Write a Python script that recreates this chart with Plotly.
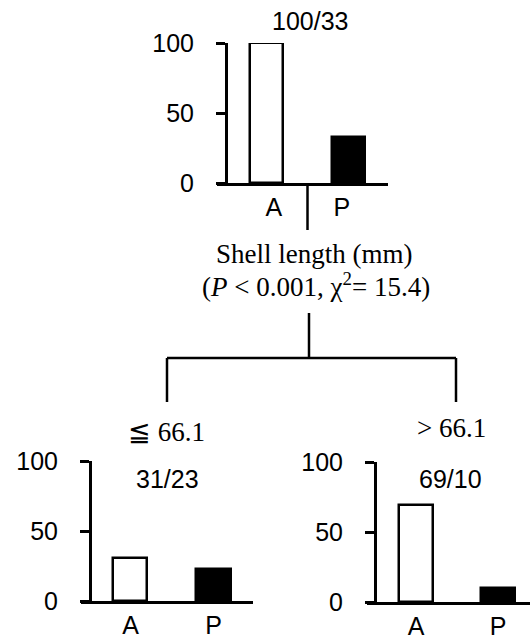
import plotly.graph_objects as go

W, H = 530, 640

# ---- data ----
categories = ["A", "P"]
top_values = [100, 33]
left_values = [31, 23]
right_values = [69, 10]
top_label = "100/33"
left_label = "31/23"
right_label = "69/10"
left_split = "\u2266 66.1"
right_split = "> 66.1"
node_line1 = "Shell length (mm)"
node_line2 = "(<i>P</i> &lt; 0.001, \u03c7<sup>2</sup>= 15.4)"
y_ticks = [0, 50, 100]

SANS = "Arial, Liberation Sans, sans-serif"
SERIF = "Times New Roman, Liberation Serif, serif"
FS = 25
FSERIF = 27

def px(x):
    return x / W

def py(y):
    return 1 - y / H

fig = go.Figure()

panels = [
    # suffix, values, x domain px, y axis px, y0 px, y100 px, x range, tickvals, x-label standoff
    ("", top_values, (217, 388), 226, 183, 43, (-0.604, 1.482), [0.09, 0.92], 0),
    ("2", left_values, (81, 253), 90, 601, 461, (-0.596, 1.476), [0, 1], 0),
    ("3", right_values, (367, 530), 375, 602, 462, (-0.598, 1.39), [0, 1], 0),
]

layout = {}
for sfx, vals, (xl, xr), yaxpos, y0, y100, xr_range, tv, so in panels:
    xs = [0, 1]
    fig.add_trace(go.Bar(
        x=xs, y=vals, xaxis="x" + sfx, yaxis="y" + sfx,
        width=0.41,
        marker=dict(color=["white", "black"], line=dict(color="black", width=2.5)),
        showlegend=False, hoverinfo="skip",
    ))
    layout["xaxis" + sfx] = dict(
        domain=[px(xl), px(xr)], range=list(xr_range), anchor="y" + sfx,
        showgrid=False, zeroline=False, showline=True, linecolor="black", linewidth=3,
        tickmode="array", tickvals=tv, ticktext=categories, ticks="",
        ticklabelstandoff=so, automargin=False,
        tickfont=dict(family=SANS, size=FS, color="black"),
        fixedrange=True,
    )
    layout["yaxis" + sfx] = dict(
        domain=[py(y0), py(y100)], range=[0, 100], anchor="free", position=px(yaxpos),
        showgrid=False, zeroline=False, showline=True, linecolor="black", linewidth=3,
        tickmode="array", tickvals=y_ticks, ticks="outside", ticklen=9, tickwidth=3,
        tickcolor="black", ticklabelstandoff=17, automargin=False,
        tickfont=dict(family=SANS, size=FS, color="black"),
        fixedrange=True,
    )

annotations = [
    dict(text=top_label, x=px(310), y=py(21), font=dict(family=SANS, size=FS)),
    dict(text=node_line1, x=px(314), y=py(254), font=dict(family=SERIF, size=FSERIF)),
    dict(text=node_line2, x=px(316), y=py(285), font=dict(family=SERIF, size=FSERIF)),
    dict(text=left_split, x=px(166), y=py(432), font=dict(family=SERIF, size=FSERIF)),
    dict(text=right_split, x=px(451), y=py(428), font=dict(family=SERIF, size=FSERIF)),
    dict(text=left_label, x=px(167), y=py(479), font=dict(family=SANS, size=FS)),
    dict(text=right_label, x=px(450), y=py(479), font=dict(family=SANS, size=FS)),
]
for a in annotations:
    a.update(xref="paper", yref="paper", showarrow=False, xanchor="center", yanchor="middle")
    a["font"]["color"] = "black"

lw = 2.5
shapes = [
    # separator between A and P on top panel
    dict(type="line", xref="x", yref="paper", x0=0.5, x1=0.5, y0=py(183), y1=py(230)),
    # tree lines
    dict(type="line", xref="paper", yref="paper", x0=px(309), x1=px(309), y0=py(313), y1=py(358)),
    dict(type="line", xref="paper", yref="paper", x0=px(167), x1=px(456), y0=py(358), y1=py(358)),
    dict(type="line", xref="paper", yref="paper", x0=px(167), x1=px(167), y0=py(358), y1=py(402)),
    dict(type="line", xref="paper", yref="paper", x0=px(456), x1=px(456), y0=py(358), y1=py(402)),
]
for s in shapes:
    s["line"] = dict(color="black", width=lw)

fig.update_layout(
    template="none",
    width=W, height=H, autosize=False,
    margin=dict(l=0, r=0, t=0, b=0, pad=0, autoexpand=False),
    paper_bgcolor="white", plot_bgcolor="rgba(0,0,0,0)",
    annotations=annotations, shapes=shapes,
    bargap=0,
    **layout,
)

fig.write_html(
    "out.html",
    config={"displayModeBar": False},
    post_script="document.body.style.margin='0';document.body.style.overflow='hidden';",
)
